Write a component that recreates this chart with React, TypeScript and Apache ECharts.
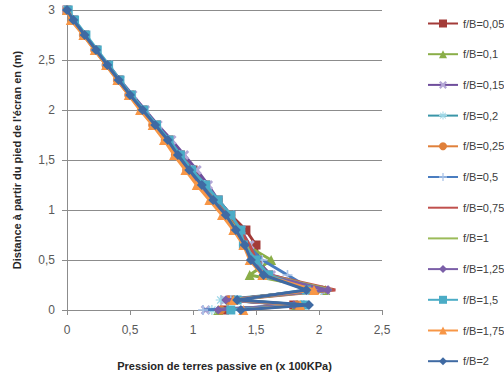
import React, { useEffect, useRef } from "react";
import * as echarts from "echarts";

const depthLevels = [3, 2.9, 2.75, 2.6, 2.45, 2.3, 2.15, 2, 1.85, 1.7, 1.55, 1.4, 1.25, 1.1, 0.95, 0.8, 0.65, 0.5, 0.35, 0.2, 0.1, 0.05, 0];

const seriesNames = ["f/B=0,05", "f/B=0,1", "f/B=0,15", "f/B=0,2", "f/B=0,25", "f/B=0,5", "f/B=0,75", "f/B=1", "f/B=1,25", "f/B=1,5", "f/B=1,75", "f/B=2"];

const p005 = [0, 0.05, 0.14, 0.23, 0.32, 0.41, 0.5, 0.6, 0.71, 0.81, 0.9, 1.0, 1.1, 1.2, 1.3, 1.42, 1.5, 1.52, 1.6, 1.95, 1.3, 1.8, 1.25];
const p01 = [0, 0.05, 0.14, 0.23, 0.32, 0.41, 0.5, 0.6, 0.7, 0.79, 0.87, 0.96, 1.05, 1.14, 1.24, 1.33, 1.42, 1.62, 1.45, 2.05, 1.3, 1.82, 1.2];
const p015 = [0, 0.05, 0.14, 0.23, 0.33, 0.42, 0.52, 0.62, 0.72, 0.83, 0.93, 1.03, 1.12, 1.2, 1.3, 1.38, 1.45, 1.5, 1.62, 2.05, 1.25, 1.85, 1.1];
const p02 = [0, 0.05, 0.14, 0.23, 0.32, 0.41, 0.51, 0.61, 0.71, 0.8, 0.89, 0.99, 1.09, 1.18, 1.28, 1.36, 1.43, 1.48, 1.58, 2.02, 1.22, 1.86, 1.15];
const p025 = [0, 0.04, 0.13, 0.22, 0.31, 0.4, 0.49, 0.59, 0.68, 0.78, 0.86, 0.95, 1.05, 1.16, 1.3, 1.33, 1.4, 1.47, 1.56, 1.98, 1.28, 1.83, 1.22];
const p05 = [0, 0.05, 0.14, 0.23, 0.32, 0.41, 0.5, 0.6, 0.7, 0.8, 0.88, 0.97, 1.07, 1.16, 1.26, 1.34, 1.43, 1.55, 1.75, 1.95, 1.3, 1.88, 1.08];
const p075 = [0, 0.05, 0.14, 0.23, 0.32, 0.41, 0.5, 0.6, 0.7, 0.8, 0.89, 0.98, 1.08, 1.18, 1.28, 1.37, 1.45, 1.5, 1.6, 2.13, 1.3, 1.85, 1.25];
const p1 = [0, 0.05, 0.14, 0.23, 0.32, 0.41, 0.5, 0.6, 0.7, 0.8, 0.88, 0.97, 1.07, 1.16, 1.26, 1.35, 1.42, 1.48, 1.58, 2.1, 1.28, 1.84, 1.22];
const p125 = [0, 0.05, 0.14, 0.23, 0.32, 0.41, 0.5, 0.6, 0.7, 0.8, 0.88, 0.97, 1.06, 1.15, 1.25, 1.34, 1.41, 1.47, 1.57, 2.07, 1.26, 1.8, 1.2];
const p15 = [0.01, 0.06, 0.15, 0.24, 0.33, 0.42, 0.51, 0.61, 0.71, 0.81, 0.9, 0.99, 1.1, 1.2, 1.3, 1.38, 1.4, 1.5, 1.6, 1.9, 1.35, 1.88, 1.3];
const p175 = [0, 0.03, 0.13, 0.22, 0.31, 0.4, 0.49, 0.58, 0.68, 0.77, 0.85, 0.94, 1.03, 1.13, 1.23, 1.32, 1.4, 1.45, 1.55, 1.96, 1.32, 1.85, 1.4];
const p2 = [0, 0.05, 0.14, 0.23, 0.32, 0.41, 0.5, 0.6, 0.7, 0.8, 0.88, 0.97, 1.07, 1.16, 1.26, 1.34, 1.41, 1.46, 1.56, 1.9, 1.35, 1.92, 1.38];

const pressures = [p005, p01, p015, p02, p025, p05, p075, p1, p125, p15, p175, p2];

const X_PATH = "path://M2,0 L5,3 L8,0 L10,2 L7,5 L10,8 L8,10 L5,7 L2,10 L0,8 L3,5 L0,2 Z";
const PLUS_PATH = "path://M4.2,0 H5.8 V4.2 H10 V5.8 H5.8 V10 H4.2 V5.8 H0 V4.2 H4.2 Z";
const STAR_PATH = "path://M4.4,0 H5.6 V3.6 L8.2,1 L9,1.8 L6.4,4.4 H10 V5.6 H6.4 L9,8.2 L8.2,9 L5.6,6.4 V10 H4.4 V6.4 L1.8,9 L1,8.2 L3.6,5.6 H0 V4.4 H3.6 L1,1.8 L1.8,1 L4.4,3.6 Z";

const styles = [
  { line: "#A33B38", mark: "#A33B38", symbol: "rect", size: 9 },
  { line: "#8AAE48", mark: "#8AAE48", symbol: "triangle", size: 10 },
  { line: "#6F4E9C", mark: "#B4A7D6", symbol: X_PATH, size: 10 },
  { line: "#3A96A8", mark: "#9AD7E8", symbol: STAR_PATH, size: 10 },
  { line: "#E0803A", mark: "#E0803A", symbol: "circle", size: 9 },
  { line: "#4A7DC0", mark: "#A9C3E8", symbol: PLUS_PATH, size: 10 },
  { line: "#C0504D", mark: "#C0504D", symbol: "none", size: 0 },
  { line: "#9BBB59", mark: "#9BBB59", symbol: "none", size: 0 },
  { line: "#7B5FA8", mark: "#7B5FA8", symbol: "diamond", size: 9 },
  { line: "#4BACC6", mark: "#4BACC6", symbol: "rect", size: 9 },
  { line: "#F79646", mark: "#F79646", symbol: "triangle", size: 10 },
  { line: "#3F6AA3", mark: "#3F6AA3", symbol: "diamond", size: 10 },
];

const comma = (v: number) => String(v).replace(".", ",");

export default function App() {
  const ref = useRef<HTMLDivElement>(null);
  useEffect(() => {
    if (!ref.current) return;
    const chart = echarts.init(ref.current, null, { renderer: "svg" });
    const font = "'Liberation Sans', Arial, sans-serif";
    chart.setOption({
      animation: false,
      backgroundColor: "#ffffff",
      textStyle: { fontFamily: font },
      grid: { left: 67, right: 122, top: 10, bottom: 70 },
      legend: {
        orient: "vertical",
        left: 422,
        top: 13,
        itemWidth: 30,
        itemHeight: 10,
        itemGap: 19.7,
        textStyle: { fontSize: 11, color: "#404040", fontFamily: font },
        data: seriesNames.map((name, i) =>
          styles[i].symbol === "none" ? { name, itemStyle: { opacity: 0 } } : { name }
        ),
      },
      xAxis: {
        type: "value",
        min: 0,
        max: 2.5,
        interval: 0.5,
        name: "Pression de terres passive en (x 100KPa)",
        nameLocation: "middle",
        nameGap: 50,
        nameTextStyle: { fontSize: 11, fontWeight: "bold", color: "#262626", fontFamily: font },
        axisLine: { show: true, onZero: false, lineStyle: { color: "#8C8C8C", width: 1 } },
        axisTick: { show: true, length: 5, lineStyle: { color: "#8C8C8C" } },
        axisLabel: { fontSize: 12, color: "#595959", margin: 14, formatter: comma },
        splitLine: { show: false },
      },
      yAxis: {
        type: "value",
        min: 0,
        max: 3,
        interval: 0.5,
        name: "Distance à partir du pied de l'écran en (m)",
        nameLocation: "middle",
        nameGap: 45,
        nameTextStyle: { fontSize: 11, fontWeight: "bold", color: "#262626", fontFamily: font },
        axisLine: { show: true, lineStyle: { color: "#8C8C8C", width: 1 } },
        axisTick: { show: true, length: 5, lineStyle: { color: "#8C8C8C" } },
        axisLabel: { fontSize: 12, color: "#595959", margin: 12, formatter: comma },
        splitLine: { show: true, lineStyle: { color: "#8C8C8C", width: 1 } },
      },
      series: seriesNames.map((name, i) => ({
        name,
        type: "line",
        data: pressures[i].map((x, j) => [x, depthLevels[j]]),
        symbol: styles[i].symbol,
        symbolSize: styles[i].size,
        showSymbol: styles[i].symbol !== "none",
        lineStyle: { color: styles[i].line, width: 3 },
        itemStyle: { color: styles[i].mark, borderWidth: 0 },
        z: 2 + i,
      })),
    });
    return () => chart.dispose();
  }, []);
  return <div ref={ref} style={{ width: 504, height: 380, position: "absolute", left: 0, top: 0 }} />;
}
